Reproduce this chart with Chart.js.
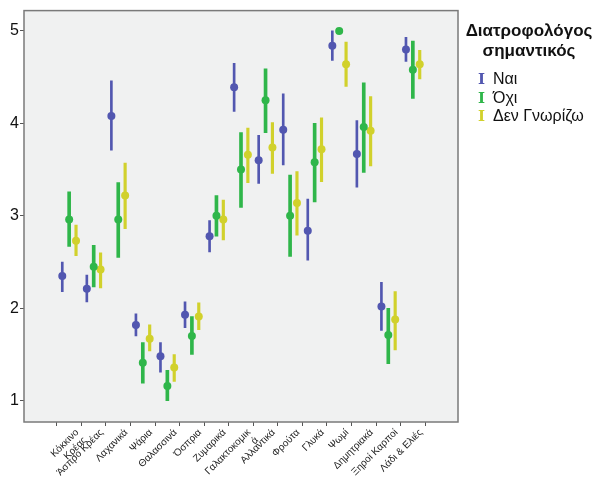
<!DOCTYPE html>
<html>
<head>
<meta charset="utf-8">
<script src="https://cdn.jsdelivr.net/npm/chart.js@4/dist/chart.umd.min.js"></script>
<style>
  body { margin: 0; background: #fff; }
  #wrap { position: relative; width: 596px; height: 482px; overflow: hidden; }
  #legend { position: absolute; left: 462px; top: 21px; width: 134px; font-family: "Liberation Sans", Arial, sans-serif; color: #111; white-space: nowrap; }
  #legend .title { font-weight: bold; font-size: 17px; text-align: center; line-height: 20px; }
  #legend .item { font-size: 16px; line-height: 17.5px; margin-left: 16px; }
  #legend .item span { display: inline-block; width: 15px; font-weight: bold; font-size: 15px; font-family: "DejaVu Serif", serif; }
</style>
</head>
<body>
<div id="wrap">
  <canvas id="chart" width="596" height="482"></canvas>
  <div id="legend">
    <div class="title">Διατροφολόγος<br>σημαντικός</div>
    <div style="height:9px"></div>
    <div class="item"><span style="color:#5257b0">I</span>Ναι</div>
    <div class="item"><span style="color:#2fb64a">I</span>Όχι</div>
    <div class="item"><span style="color:#d1d12c">I</span>Δεν Γνωρίζω</div>
  </div>
</div>
<script>
const categories = [
  ['Κόκκινο', 'Κρέας'], 'Άσπρο Κρέας', 'Λαχανικά', 'Ψάρια', 'Θαλασσινά', 'Όσπρια',
  'Ζυμαρικά', ['Γαλακτοκομικ', 'ά'], 'Αλλαντικά', 'Φρούτα', 'Γλυκά', 'Ψωμί',
  'Δημητριακά', 'Ξηροί Καρποί', 'Λάδι & Ελιές'
];

// mean, lower, upper for each group
const naiMean = [2.35, 2.21, 4.08, 1.82, 1.48, 1.93, 2.78, 4.39, 3.60, 3.93, 2.84, 4.84, 3.67, 2.02, 4.80];
const naiLow  = [2.18, 2.07, 3.71, 1.70, 1.31, 1.79, 2.61, 4.13, 3.35, 3.55, 2.52, 4.68, 3.31, 1.76, 4.67];
const naiHigh = [2.50, 2.36, 4.46, 1.94, 1.63, 2.07, 2.95, 4.65, 3.87, 4.32, 3.18, 5.00, 4.03, 2.28, 4.93];

const oxiMean = [2.96, 2.45, 2.96, 1.41, 1.16, 1.70, 3.00, 3.50, 4.25, 3.00, 3.58, 5.00, 3.96, 1.71, 4.58];
const oxiLow  = [2.67, 2.23, 2.55, 1.19, 1.00, 1.50, 2.78, 3.09, 3.90, 2.56, 3.15, null, 3.47, 1.40, 4.27];
const oxiHigh = [3.26, 2.68, 3.36, 1.63, 1.33, 1.91, 3.22, 3.90, 4.59, 3.44, 4.00, null, 4.44, 2.00, 4.89];

const denMean = [2.73, 2.42, 3.22, 1.67, 1.36, 1.91, 2.96, 3.66, 3.74, 3.14, 3.72, 4.64, 3.92, 1.88, 4.64];
const denLow  = [2.57, 2.22, 2.86, 1.54, 1.21, 1.77, 2.74, 3.36, 3.46, 2.79, 3.37, 4.40, 3.54, 1.55, 4.48];
const denHigh = [2.90, 2.60, 3.57, 1.82, 1.50, 2.06, 3.17, 3.95, 4.01, 3.48, 4.06, 4.88, 4.29, 2.18, 4.79];

const groups = [
  { name: 'Ναι', color: '#5257b0', mean: naiMean, low: naiLow, high: naiHigh, shift: -0.28, width: 2 },
  { name: 'Όχι', color: '#2fb64a', mean: oxiMean, low: oxiLow, high: oxiHigh, shift: 0, width: 3 },
  { name: 'Δεν Γνωρίζω', color: '#d1d12c', mean: denMean, low: denLow, high: denHigh, shift: 0.28, width: 2.5 }
];

const datasets = [];
groups.forEach(g => {
  datasets.push({
    type: 'bar',
    label: g.name + ' CI',
    data: g.mean.map((m, i) => g.low[i] == null ? null : { x: i + g.shift, y: [g.low[i], g.high[i]] }).filter(d => d),
    backgroundColor: g.color,
    borderWidth: 0,
    barThickness: g.width,
    grouped: false
  });
});
groups.forEach(g => {
  datasets.push({
    type: 'scatter',
    label: g.name,
    data: g.mean.map((m, i) => ({ x: i + g.shift, y: m })),
    backgroundColor: g.color,
    borderColor: g.color,
    pointRadius: 4,
    pointBorderWidth: 0
  });
});

// plot background + frame
const framePlugin = {
  id: 'frame',
  beforeDraw(chart) {
    const { ctx, chartArea: a } = chart;
    ctx.save();
    ctx.fillStyle = '#f0f1f1';
    ctx.fillRect(a.left, a.top, a.right - a.left, a.bottom - a.top);
    ctx.restore();
  },
  afterDraw(chart) {
    const { ctx, chartArea: a } = chart;
    ctx.save();
    ctx.strokeStyle = '#7a7a7a';
    ctx.lineWidth = 1.5;
    ctx.strokeRect(a.left, a.top, a.right - a.left, a.bottom - a.top);
    ctx.restore();
  }
};

new Chart(document.getElementById('chart'), {
  data: { datasets },
  plugins: [framePlugin],
  options: {
    responsive: false,
    animation: false,
    layout: { padding: { top: 10, right: 138, left: 0, bottom: 0 } },
    plugins: { legend: { display: false }, tooltip: { enabled: false } },
    scales: {
      x: {
        type: 'linear',
        min: -1.25,
        max: 15.25,
        afterBuildTicks: axis => { axis.ticks = categories.map((c, i) => ({ value: i })); },
        afterFit: axis => { axis.height = 60; },
        grid: { drawOnChartArea: false, drawTicks: true, tickLength: 4, color: '#555' },
        border: { display: false },
        ticks: {
          autoSkip: false,
          maxRotation: 45,
          minRotation: 45,
          padding: 1,
          labelOffset: 8,
          color: '#222',
          font: { family: 'Liberation Sans, Arial, sans-serif', size: 10, lineHeight: 1.1 },
          callback: v => categories[v]
        }
      },
      y: {
        min: 0.77,
        max: 5.22,
        afterBuildTicks: axis => { axis.ticks = [1, 2, 3, 4, 5].map(v => ({ value: v })); },
        afterFit: axis => { axis.width = 24; },
        grid: { drawOnChartArea: false, drawTicks: true, tickLength: 4, color: '#555' },
        border: { display: false },
        ticks: {
          padding: 1,
          color: '#111',
          font: { family: 'Liberation Sans, Arial, sans-serif', size: 16 }
        }
      }
    }
  }
});
</script>
</body>
</html>
